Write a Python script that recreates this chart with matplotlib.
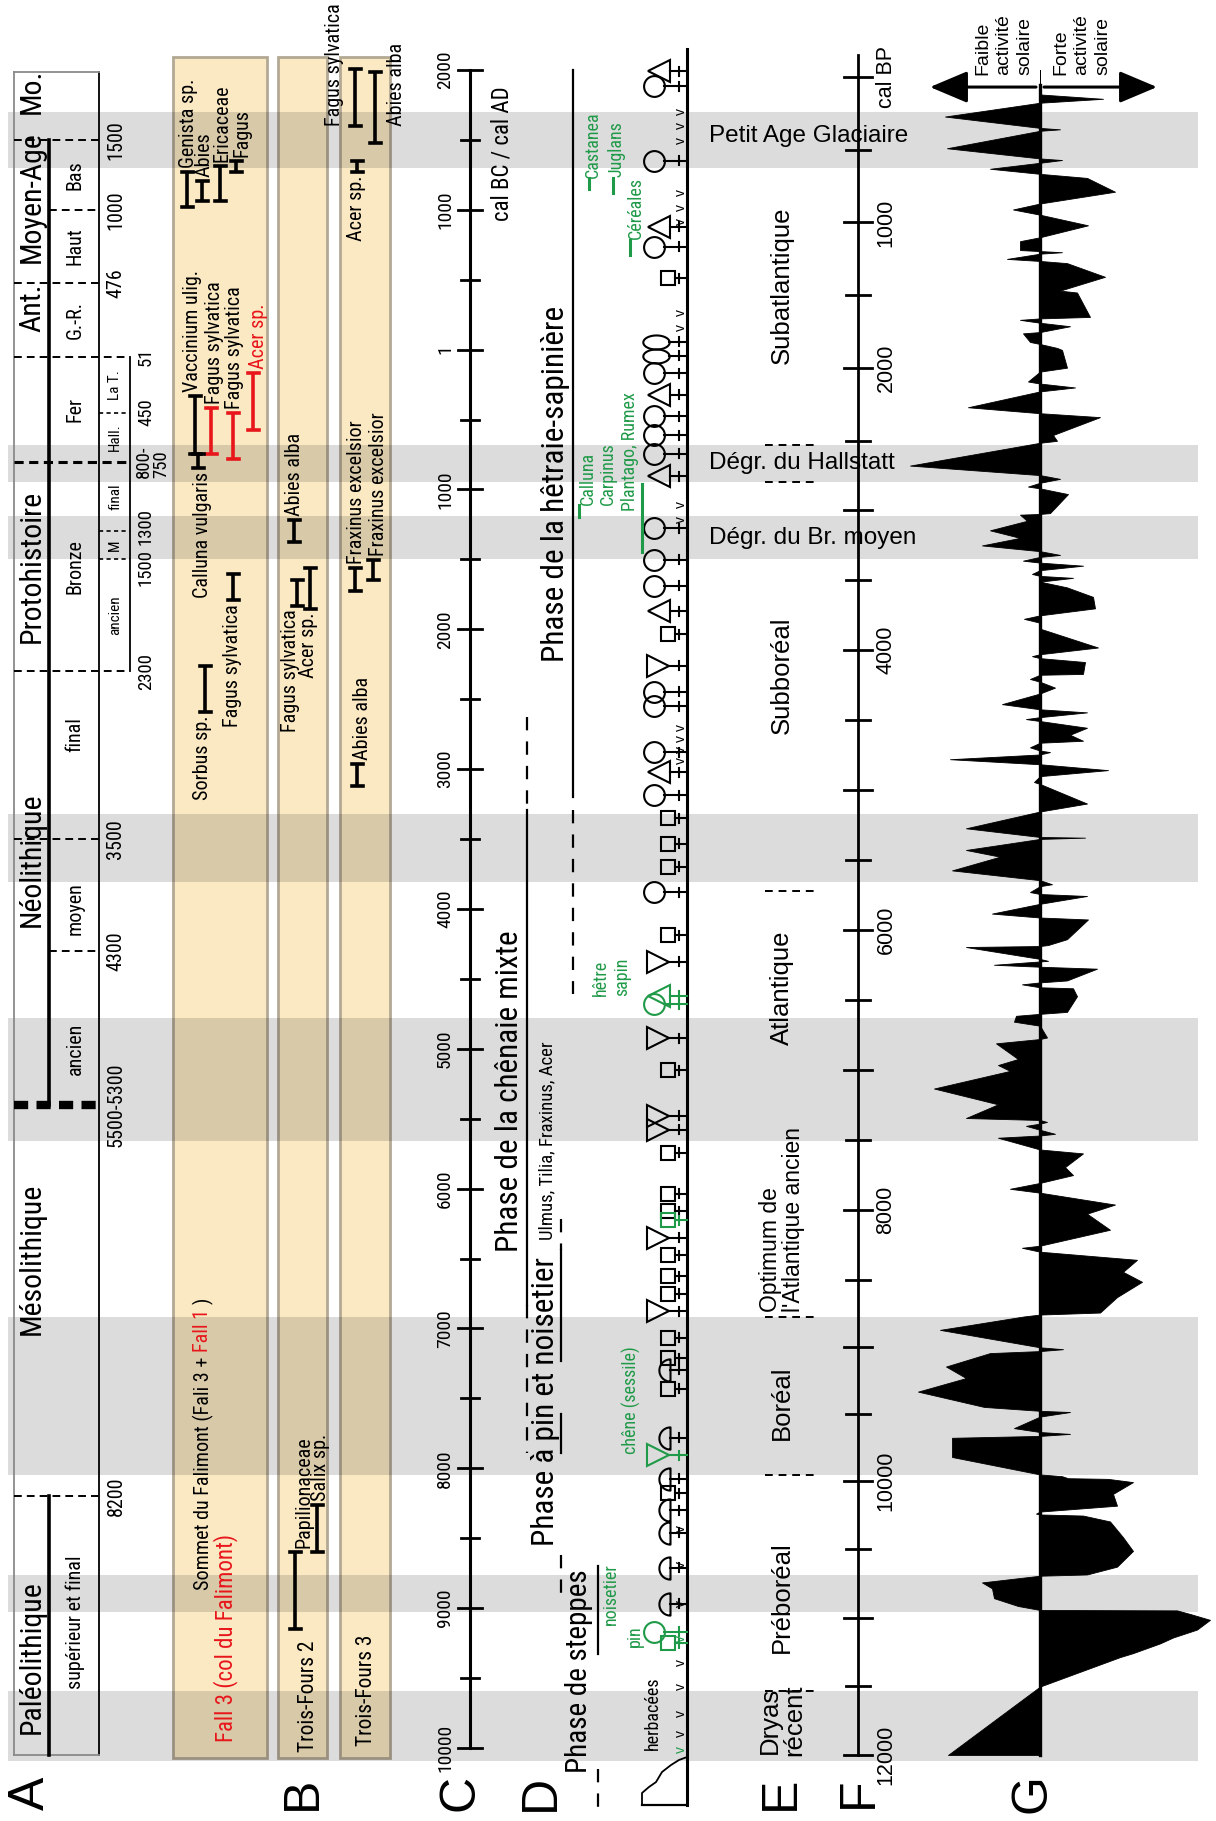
import numpy as np
import matplotlib
matplotlib.use("Agg")
import matplotlib.pyplot as plt
from matplotlib import font_manager as fm
from matplotlib.path import Path
from matplotlib.patches import Rectangle, ArrowStyle

# ======================= DATA =======================
# A - cultural chronology (years AD, negative = BC)
periods      = ["Paléolithique", "Mésolithique", "Néolithique", "Protohistoire", "Ant.", "Moyen-Age", "Mo."]
period_start = [-10000, -8200, -5400, -2300, -51, 476, 1500]
period_end   = [-8200, -5400, -2300, -51, 476, 1500, 2000]
period_label_year = [-9350, -6500, -3650, -1550, 300, 1090, 1850]

subperiods = ["supérieur et final", "ancien", "moyen", "final", "Bronze", "Fer", "G.-R.", "Haut", "Bas"]
sub_start  = [-10000, -5400, -4300, -3500, -2300, -800, -51, 476, 1000]
sub_end    = [-8200, -4300, -3500, -2300, -800, -51, 476, 1000, 1500]
sub_label_year = [-9100, -5000, -4000, -2750, -1550, -425, 212, 738, 1250]

metal_sub       = ["ancien", "M", "final", "Hall.", "La T."]
metal_sub_start = [-2300, -1500, -1300, -800, -450]
metal_sub_end   = [-1500, -1300, -800, -450, -51]

date_labels = ["1500", "1000", "476", "3500", "4300", "5500-5300", "8200"]
date_years  = [1500, 1000, 476, -3500, -4300, -5400, -8200]
metal_date_labels = ["51", "450", "800-\n750", "1300", "1500", "2300"]
metal_date_years  = [-51, -450, -800, -1300, -1500, -2300]

# grey bands (cold / low solar activity episodes)
band_start = [1300, -680, -1190, -3320, -4780, -6920, -8765, -9590]
band_end   = [1700, -945, -1500, -3810, -5660, -8050, -9025, -10090]

# B - charcoal taxa (ranges in years AD/BC)
fal_taxa  = ["Genista sp.", "Abies", "Ericaceae", "Fagus", "Vaccinium ulig.", "Fagus sylvatica",
             "Fagus sylvatica", "Acer sp.", "Calluna vulgaris", "Fagus sylvatica", "Sorbus sp."]
fal_from  = [1020, 1063, 1063, 1271, -743, -743, -783, -578, -846, -1790, -2591]
fal_to    = [1271, 1207, 1310, 1350, -332, -414, -455, -168, -743, -1605, -2262]
fal_red_bar   = [False, False, False, False, False, True, True, True, False, False, False]
fal_red_label = [False, False, False, False, False, False, False, True, False, False, False]

tf2_taxa = ["Abies alba", "Fagus sylvatica", "Acer sp.", "Salix sp.", "Papilionaceae"]
tf2_from = [-1379, -1830, -1852, -8599, -9150]
tf2_to   = [-1215, -1647, -1563, -8263, -8599]

tf3_taxa = ["Fagus sylvatica", "Abies alba", "Acer sp.", "Fraxinus excelsior", "Fraxinus excelsior", "Abies alba"]
tf3_from = [1600, 1475, 1271, -1726, -1647, -3124]
tf3_to   = [2007, 1987, 1350, -1563, -1504, -2960]

# C - cal BC / cal AD axis
calbc_ticks  = [2000, 1000, 0, -1000, -2000, -3000, -4000, -5000, -6000, -7000, -8000, -9000, -10000]
calbc_labels = ["2000", "1000", "1", "1000", "2000", "3000", "4000", "5000", "6000", "7000", "8000", "9000", "10000"]

# D - vegetation phases
phase_names  = ["Phase de la hêtraie-sapinière", "Phase de la chênaie mixte",
                "Phase à pin et noisetier", "Phase de steppes"]
phase_center = [-960, -5300, -7520, -9450]
phase_solid  = [[(2000, -3200)], [(-3290, -6835)], [(-7890, -7610), (-7230, -6440)], [(-9330, -8700)]]
phase_dashed = [[(-3290, -4610)], [(-2630, -3290), (-6835, -7890)], [(-6220, -6440), (-8620, -8920)],
                [(-10150, -10450)]]

sym_year  = [1990, 1885, 1351, 879, 735, 510, 58, -45, -168, -324,
             -476, -611, -743, -907, -1276, -1502, -1687, -1872, -2036, -2262,
             -2446, -2549, -2878, -3021, -3185, -3350, -3534, -3699, -3880, -4188,
             -4377, -4620, -4680, -4923, -5154, -5480, -5580, -5743, -6037, -6163,
             -6226, -6352, -6478, -6625, -6751, -6877, -7066, -7213, -7297, -7430,
             -7780, -7906, -8075, -8180, -8300, -8460, -8710, -8970, -9170, -9250]
sym_shape = ['<', 'o', 'o', '<', 'o', 's', 'ov', 'ov', 'o', '<',
             'o', 'o', 'o', '<', 'o', 'o', 'o', '<', 's', '>',
             'o', 'o', 'o', '<', 'o', 's', 's', 's', 'o', 's',
             '>', '<', 'o', '>', 's', '>', '>', 's', 's', 's',
             's', '>', 's', 's', 's', '>', 's', 's', 'hd', 's',
             'hd', '>', 'hd', 's', 'hd', 'hd', 'hd', 'hd', 'o', 's']
sym_green = [False] * 31 + [True, True] + [False] * 7 + [True] + [False] * 10 + [True] + [False] * 6 + [True, True]

herb_v_year  = [1700, 1600, 1495, 1125, 1020, 920, 265, 160, -1110, -1215, -2700, -2780, -2860, -2940,
                -8430, -8690, -8970, -9390, -9560, -9750, -9900]
herb_v_green = [-9220, -10010]
herb_curve_off  = [-45, -45, -38, -31, -25, -16, -8, 0]
herb_curve_year = [-10408, -10322, -10279, -10244, -10172, -10122, -10086, -10065]

green_taxa      = ["Castanea", "Juglans", "Céréales", "Calluna", "Carpinus", "Plantago, Rumex",
                   "hêtre", "sapin", "chêne (sessile)", "noisetier", "pin"]
green_taxa_year = [1230, 1235, 790, -1113, -1113, -1153, -4620, -4620, -7900, -9120, -9280]

# E - climatic periods
clim_rot      = ["Subatlantique", "Subboréal", "Atlantique", "Boréal", "Préboréal", "Dryas\nrécent"]
clim_rot_year = [461, -2330, -4565, -7528, -8920, -9800]
clim_hor      = ["Petit Age Glaciaire", "Dégr. du Hallstatt", "Dégr. du Br. moyen"]
clim_hor_year = [1530, -812, -1345]
clim_bounds   = [-680, -945, -3870, -6920, -8050, -9590]

# F - cal BP axis
bp_labels = [1000, 2000, 4000, 6000, 8000, 10000, 12000]

# G - solar activity (cal BP, relative index; <0 weak, >0 strong)
solar_bp = [-50, 120, 150, 177, 272, 350, 360, 370, 490, 560, 571, 590, 631, 666, 694, 789, 870, 911, 947, 1020,
            1102, 1129, 1190, 1197, 1205, 1215, 1251, 1265, 1280, 1374, 1469, 1482, 1650, 1660, 1670, 1690, 1714,
            1754, 1763, 1822, 1836, 1863, 1877, 1999, 2026, 2094, 2108, 2135, 2162, 2271, 2312, 2339, 2462, 2502,
            2516, 2679, 2747, 2774, 2802, 2829, 2842, 2883, 3019, 3025, 3030, 3074, 3142, 3196, 3250, 3291, 3318,
            3332, 3359, 3373, 3395, 3427, 3454, 3468, 3482, 3509, 3550, 3618, 3700, 3750,
            3775, 3803, 3845, 3980, 4028, 4042, 4056, 4084, 4169, 4175, 4205, 4225, 4267, 4309, 4385, 4422, 4444,
            4478, 4492, 4506, 4554, 4604, 4647, 4661, 4694, 4717, 4728, 4745, 4779, 4815, 4857, 4900, 4942, 4956,
            5096, 5153, 5273, 5335, 5340, 5349, 5428, 5476, 5574, 5644, 5673, 5687, 5729, 5743, 5757, 5813, 5883,
            5911, 5925, 6066, 6108, 6115, 6122, 6207, 6221, 6249, 6263, 6277, 6361, 6375, 6389, 6410, 6417, 6474,
            6586, 6600, 6614, 6656, 6685, 6769, 6780, 6811, 6923, 6966, 7008, 7134, 7247, 7345, 7359, 7373, 7385,
            7401, 7429, 7458, 7470, 7486, 7570, 7598, 7696, 7753, 7809, 7851, 7879, 7964,
            8029, 8144, 8258, 8273, 8301, 8359, 8445, 8517, 8631, 8746, 8761, 8775, 8875, 9005, 9019, 9033, 9048,
            9148, 9234, 9335, 9449, 9478, 9487, 9521, 9607, 9636, 9650, 9665, 9679, 9822, 9952, 9965, 9980, 9985,
            10009, 10095, 10181, 10224, 10239, 10245, 10253, 10296, 10411, 10511, 10626, 10683, 10692, 10741,
            10784, 10856, 10913, 10942, 10945, 10971, 11014, 11085, 11143, 11186, 11257, 11286, 11501, 12000, 12000]
solar_val = [0, 0, 63, 0, -95, 0, 20, 0, -93, 0, 22, 0, -50, 0, 47, 75, 0, -27, 0, 48,
             0, -20, -20, 0, 22, 0, -33, 0, 27, 65, 20, 37, 50, 0, -20, 0, 30,
             0, -17, -10, 0, 17, 22, 27, 0, -12, 0, 35, 0, -72, 0, 60, 13, 17,
             0, -130, 0, 20, 0, -12, 0, 28, 10, 0, -20, -13, -50, -20, -58, 0, 20,
             0, -17, 0, 43, 0, -8, 0, 33, 0, 27, 53, 55, 0,
             -16, 0, 0, 58, 0, -8, 0, 45, 43, 0, -10, 0, 15, 0, -38, 0, 47,
             0, -14, 0, 47, 30, 43, 0, -10, 0, 10, 0, -90, 0, 68, 0, -6, 0,
             47, 0, -74, 0, 45, 0, -74, -40, -88, 0, 12, 0, -10, 0, 47, 0, -48,
             0, 48, 27, 8, 0, -74, 0, 8, -46, 0, 57, 27, 0, -18, 0, 33, 37,
             27, 0, -24, -26, 0, 7, 0, -44, -22, -42, -30, -106, -42, -74, 0, 7, 0,
             -14, 0, 15, 0, -42, 0, 43, 25, 33, 0, -30, 0, 75,
             47, 70, 0, -18, 0, 97, 83, 102, 77, 60, 0, -16, -100, 0, 23, 0, -50,
             -94, -74, -122, -56, 0, 30, 0, -26, 0, 30, 0, -88, -88, 0, 22, 28, 68,
             93, 73, 77, 0, -4, 0, 43, 70, 83, 93, 77, 47, 0, -58,
             -48, -46, -22, 0, 137, 150, 170, 157, 133, 120, 93, 80, 0, -92, 0]

# ======================= LAYOUT =======================
W, H, DPI = 1216, 1821, 100
PXY = 0.13983                       # pixels per year
Y_TOP = 2000 + 70 / PXY
Y_BOT = 2000 - (H - 70) / PXY

# the cal BP scale of the original is not drawn exactly in register with cal BC/AD
FCAL_BP  = [0, 1500, 2500, 8500, 10000, 11000, 12000]
FCAL_OFF = [0, 60, 100, 100, 40, 20, 0]


def bp_to_year(bp):
    bp = np.asarray(bp, dtype=float)
    return 1950 - bp - np.interp(bp, FCAL_BP, FCAL_OFF)


def yrs(px):
    return px / PXY


def y_of_px(px):
    return 2000 - (px - 70) / PXY


avail = {f.name for f in fm.fontManager.ttflist}


def pick(*names):
    for n in names:
        if n in avail:
            return n
    return "DejaVu Sans"


NARROW = pick("Liberation Sans Narrow", "Roboto Condensed", "Open Sans Condensed", "Liberation Sans")
ARIAL = pick("Liberation Sans", "Arimo", "DejaVu Sans")
FN = [NARROW, "DejaVu Sans"]
FA = [ARIAL, "DejaVu Sans"]
GREEN = "#1f9a48"
RED = "#e8161b"

fig = plt.figure(figsize=(W / DPI, H / DPI), dpi=DPI)
ax = fig.add_axes([0, 0, 1, 1])
ax.set_xlim(0, W)
ax.set_ylim(Y_BOT, Y_TOP)
ax.axis("off")


def vt(x, y, s, size, color="black", ha="center", va="center", fam=None, **kw):
    return ax.text(x, y, s, rotation=90, fontsize=size, color=color, ha=ha, va=va,
                   family=fam or FN, zorder=5, **kw)


def line(xs, ys, **kw):
    kw.setdefault("color", "black")
    kw.setdefault("zorder", 4)
    ax.plot(xs, ys, **kw)


# ---- grey bands (semi-transparent so the beige panels darken too)
for a, b in zip(band_start, band_end):
    ax.fill_between([8, 1198], a, b, color="black", alpha=0.137, lw=0, zorder=1)

# ---- B panels
PANEL_TOP, PANEL_BOT = 2090, -10070
for x0, x1 in [(173, 267), (278, 327), (340, 390)]:
    ax.add_patch(Rectangle((x0, PANEL_BOT), x1 - x0, PANEL_TOP - PANEL_BOT, fc="#fbe9c4",
                           ec="#b3a894", lw=2.0, zorder=0.5))

# ======================= A =======================
XL, XM, XR, XB = 14, 49, 99, 130
A_TOP, A_BOT = 1985, -10050
line([XL, XL], [A_BOT, A_TOP], color="#8a8a8a", lw=1.3)
line([XR, XR], [A_BOT, A_TOP], lw=1.3)
line([XL, XR], [A_TOP, A_TOP], color="#8a8a8a", lw=1.3)
line([XL, XR], [A_BOT, A_BOT], color="#8a8a8a", lw=1.3)
line([XM, XM], [period_start[2], period_end[5]], lw=2.6)
line([XM, XM], [A_BOT, period_end[0]], lw=2.6)
line([XB, XB], [metal_sub_start[0], metal_sub_end[-1]], lw=1.3)

dash = dict(lw=1.4, ls=(0, (4, 2.6)))
for yb in [1500, 476, -3500, -8200]:
    line([XL, XR], [yb, yb], **dash)
for yb in [1000, -4300]:
    line([XM, XR], [yb, yb], **dash)
for yb in [-51, -2300]:
    line([XL, XB], [yb, yb], **dash)
line([XL, XB], [-800, -800], lw=2.2, ls=(0, (3, 1.8)))
for yb in [-450, -1300, -1500]:
    line([XR, XB], [yb, yb], lw=1.2, ls=(0, (2.5, 2)))
line([XL, XR], [-5400, -5400], lw=6, ls=(0, (1.7, 1.0)))

for name, c in zip(periods, period_label_year):
    vt(32, c, name, 21.5)
for name, c in zip(subperiods, sub_label_year):
    vt(75, c, name, 14.5)
for name, s, e in zip(metal_sub, metal_sub_start, metal_sub_end):
    vt(115, (s + e) / 2, name, 11)
for lab, yv in zip(date_labels, date_years):
    vt(116, yv, lab, 14.5)
for lab, yv in zip(metal_date_labels, metal_date_years):
    if "\n" in lab:
        vt(153, yv, lab, 13.5, va="center", multialignment="left", linespacing=0.95)
    elif lab == "1500":
        vt(146, yv - yrs(8), lab, 13.5)
    elif lab == "1300":
        vt(146, yv + yrs(5), lab, 13.5)
    else:
        vt(146, yv, lab, 13.5)

# ======================= B =======================
def draw_bar(x, y0, y1, color, lw=2.6, cap=5.5):
    line([x, x], [y0, y1], color=color, lw=lw, solid_capstyle="butt")
    line([x - cap, x + cap], [y0, y0], color=color, lw=lw)
    line([x - cap, x + cap], [y1, y1], color=color, lw=lw)


GAP = yrs(4)


def place_taxa(taxa, y0s, y1s, layout, bar_col, lab_col, size=14.5):
    for t, a, b, (xb, xl, side), bc, lc in zip(taxa, y0s, y1s, layout, bar_col, lab_col):
        draw_bar(xb, a, b, bc)
        if side == "up":
            vt(xl, b + GAP, t, size, color=lc, va="bottom")
        elif side == "down":
            vt(xl, a - GAP, t, size, color=lc, va="top")
        elif side == "top":
            vt(xl, y_of_px(3), t, size, color=lc, va="top")
        else:
            vt(xl, a + yrs(17), t, size, color=lc, va="bottom")


fal_layout = [(187, 188, "up"), (202, 204, "up"), (220, 222, "up"), (236, 242, "up"),
              (195, 193, "up"), (211, 214, "up"), (233, 234, "up"), (253, 258, "up"),
              (198, 203, "down"), (233, 233, "down"), (205, 203, "down")]
place_taxa(fal_taxa, fal_from, fal_to, fal_layout,
           [RED if r else "black" for r in fal_red_bar], [RED if r else "black" for r in fal_red_label])
tf2_layout = [(294, 294, "up"), (297, 291, "down"), (310, 308, "down"), (317, 321, "up"), (295, 304, "up")]
place_taxa(tf2_taxa, tf2_from, tf2_to, tf2_layout, ["black"] * 5, ["black"] * 5)
tf3_layout = [(355, 335, "top"), (375, 397, "beside"), (357, 357, "down"), (355, 357, "up"),
              (373, 378, "up"), (357, 362, "up")]
place_taxa(tf3_taxa, tf3_from, tf3_to, tf3_layout, ["black"] * 6, ["black"] * 6)

fig.canvas.draw()
rend = fig.canvas.get_renderer()


def rich_vtext(x, y0, parts, size):
    y = y0
    for s, c, gap in parts:
        t = vt(x, y, s, size, color=c, va="bottom")
        bb = t.get_window_extent(renderer=rend)
        y = ax.transData.inverted().transform((0, bb.y1))[1] + yrs(gap)


rich_vtext(203, -8870, [("Sommet du Falimont (Fali 3 +", "black", 5), ("Fall 1", RED, 4), (")", "black", 0)], 14.5)
vt(226, -9960, "Fall 3 (col du Falimont)", 16.5, color=RED, va="bottom")
vt(309, -10029, "Trois-Fours 2", 15.5, va="bottom")
vt(367, -9986, "Trois-Fours 3", 15.5, va="bottom")

# ======================= C =======================
XC = 470
line([XC, XC], [-10000, 2000], lw=2.2)
for t in calbc_ticks:
    line([XC - 12, XC + 12], [t, t], lw=2.0)
for t in np.array(calbc_ticks[:-1]) - 500:
    line([XC - 9, XC + 9], [t, t], lw=2.0)
for t, lab in zip(calbc_ticks, calbc_labels):
    vt(445, t, lab, 14)
vt(502, 1400, "cal BC / cal AD", 16.5)

# ======================= D =======================
XD = 687
phase_x = [556, 510, 545, 579]
line_x = [573, 527, 561, 598]
phase_size = [22.5, 22.5, 22.5, 21]
for name, c, xx, fs in zip(phase_names, phase_center, phase_x, phase_size):
    vt(xx, c, name, fs)
for segs, lx in zip(phase_solid, line_x):
    for a, b in segs:
        line([lx, lx], [a, b], lw=1.6)
for segs, lx in zip(phase_dashed, line_x):
    for a, b in segs:
        line([lx, lx], [a, b], lw=1.6, ls=(0, (6, 5)))
vt(547, -5660, "Ulmus, Tilia, Fraxinus, Acer", 13.5)

line([XD, XD], [-10408, 2150], lw=2.2)
line([XD + herb_curve_off[0], XD], [herb_curve_year[0]] * 2, lw=1.6)
line(XD + np.array(herb_curve_off), herb_curve_year, lw=1.3)

t_half = np.linspace(np.pi / 2, 3 * np.pi / 2, 40)
half_disc = Path(np.vstack([np.column_stack([np.cos(t_half), np.sin(t_half)]), [[0, 1]]]), closed=True)
t_full = np.linspace(0, 2 * np.pi, 60)
oval = Path(np.column_stack([1.5 * np.cos(t_full), 0.8 * np.sin(t_full)]), closed=True)
SHAPES = {
    "o": dict(m="o", ms=15, xc=654, xs=664),
    "<": dict(m="<", ms=16, xc=659, xs=670),
    ">": dict(m=">", ms=16, xc=658, xs=669),
    "s": dict(m="s", ms=9.5, xc=668, xs=675),
    "hd": dict(m=half_disc, ms=16, xc=670, xs=670),
    "ov": dict(m=oval, ms=19, xc=656, xs=669),
}
for yv, shp, g in zip(sym_year, sym_shape, sym_green):
    p = SHAPES[shp]
    col = GREEN if g else "black"
    ax.plot([p["xc"]], [yv], marker=p["m"], ms=p["ms"], mfc="none", mec=col, mew=1.5, zorder=4, ls="none")
    line([p["xs"], XD], [yv, yv], color=col, lw=1.5)
    line([679, 679], [yv - yrs(4.5), yv + yrs(4.5)], color=col, lw=1.5)
for yv in herb_v_year:
    vt(681, yv, "v", 10, fam=FA)
for yv in herb_v_green:
    vt(681, yv, "v", 10, fam=FA, color=GREEN)

green_x = [593, 617, 636, 588, 608, 630, 601, 622, 631, 611, 635]
for name, yv, xx in zip(green_taxa, green_taxa_year, green_x):
    vt(xx, yv, name, 13, color=GREEN, va="bottom")
for xx, a, b in [(589, 1150, 1225), (613, 1120, 1230), (630, 680, 785), (579, -1200, -1113), (642, -1450, -960)]:
    line([xx, xx], [a, b], color=GREEN, lw=2.2)
vt(653, -10015, "herbacées", 13, va="bottom")

# ======================= E =======================
XE = 782
for name, yv in zip(clim_rot, clim_rot_year):
    vt(XE, yv, name, 18.5, fam=FA, linespacing=1.0)
vt(XE, -6880, "Optimum de\nl'Atlantique ancien", 16.5, fam=FA, va="bottom", linespacing=1.0,
   multialignment="left")
for name, yv in zip(clim_hor, clim_hor_year):
    ax.text(709, yv, name, fontsize=17.5, family=FA, ha="left", va="center", zorder=5)
for yb in clim_bounds:
    line([765, 815], [yb, yb], lw=1.4, ls=(0, (4, 3)))

# ======================= F =======================
XF = 858
line([XF, XF], [bp_to_year(12000), bp_to_year(-155)], lw=2.0)
for bp in range(0, 12001, 500):
    hw = 14 if bp % 1000 == 0 else 12
    line([XF - hw, XF + hw], [bp_to_year(bp)] * 2, lw=2.0)
for bp in bp_labels:
    ax.text(886, bp_to_year(bp), str(bp), rotation=90, fontsize=15.5, family=FA, ha="center",
            va="center", zorder=5)
ax.text(886, bp_to_year(0), "cal BP", rotation=90, fontsize=15.5, family=FA, ha="center",
        va="center", zorder=5)

# ======================= G =======================
axg = fig.add_axes([850 / W, 0, 366 / W, 1])
axg.set_xlim(-190, 176)
axg.set_ylim(Y_BOT, Y_TOP)
axg.axis("off")
axg.patch.set_alpha(0)
sy = bp_to_year(solar_bp)
sv = np.asarray(solar_val, dtype=float)
axg.fill_betweenx(sy, 0, sv, color="black", lw=0.6, zorder=3)
axg.plot([0, 0], [1890, bp_to_year(12000)], color="black", lw=2.4, zorder=4)
YA = 1878
head = ArrowStyle("-|>", head_length=0.9, head_width=0.38)
axg.annotate("", xy=(-110, YA), xytext=(-4, YA),
             arrowprops=dict(arrowstyle=head, color="black", lw=2.2, mutation_scale=26, shrinkA=0, shrinkB=0))
axg.annotate("", xy=(117, YA), xytext=(4, YA),
             arrowprops=dict(arrowstyle=head, color="black", lw=2.2, mutation_scale=26, shrinkA=0, shrinkB=0))
axg.text(-36, 1962, "Faible\nactivité\nsolaire", rotation=90, fontsize=14, family=FA, ha="center",
         va="bottom", multialignment="left", linespacing=1.3)
axg.text(42, 1962, "Forte\nactivité\nsolaire", rotation=90, fontsize=14, family=FA, ha="center",
         va="bottom", multialignment="left", linespacing=1.3)

# ======================= panel letters =======================
for letter, xx in zip("ABCDEFG", [31, 303, 460, 541, 781, 859, 1032]):
    ax.text(xx, -10323, letter, rotation=90, fontsize=36, family=FA, ha="center", va="center", zorder=5)

fig.savefig("out.png", dpi=DPI)
